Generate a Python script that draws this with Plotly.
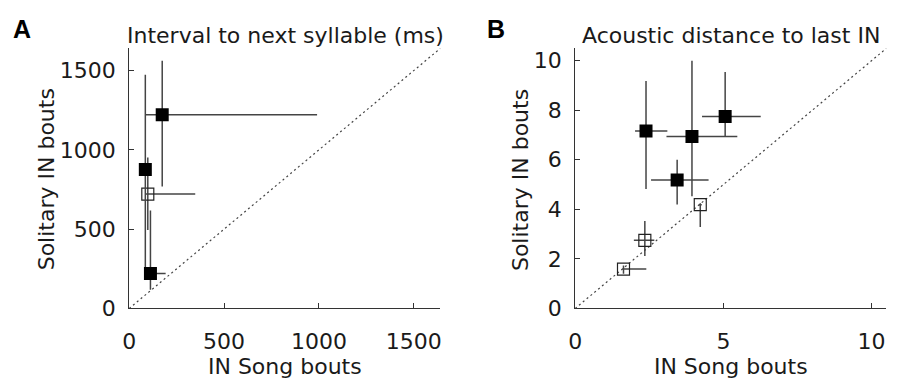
import plotly.graph_objects as go

# ---------------- data ----------------
# Panel A: Interval to next syllable (ms)
A_filled_x = [174, 85, 112]
A_filled_y = [1221, 876, 221]
A_filled_x_lo = [84, 78, 84]
A_filled_x_hi = [990, 92, 192]
A_filled_y_lo = [768, 180, 118]
A_filled_y_hi = [1561, 1473, 617]

A_open_x = [98]
A_open_y = [721]
A_open_x_lo = [85]
A_open_x_hi = [348]
A_open_y_lo = [495]
A_open_y_hi = [951]

A_range = [0, 1640]
A_ticks = [0, 500, 1000, 1500]

# Panel B: Acoustic distance to last IN
B_filled_x = [2.39, 3.94, 5.06, 3.44]
B_filled_y = [7.16, 6.94, 7.75, 5.18]
B_filled_x_lo = [2.02, 3.08, 4.28, 2.56]
B_filled_x_hi = [3.11, 5.47, 6.26, 4.50]
B_filled_y_lo = [4.82, 4.53, 6.94, 4.20]
B_filled_y_hi = [9.18, 10.0, 9.54, 6.00]

B_open_x = [4.22, 2.35, 1.63]
B_open_y = [4.19, 2.75, 1.59]
B_open_x_lo = [4.17, 1.98, 1.59]
B_open_x_hi = [4.27, 2.67, 2.40]
B_open_y_lo = [3.29, 2.12, 1.40]
B_open_y_hi = [4.25, 3.53, 1.73]

B_range = [0, 10.5]
B_xticks = [0, 5, 10]
B_yticks = [0, 2, 4, 6, 8, 10]

titles = ["Interval to next syllable (ms)", "Acoustic distance to last IN"]
panel_letters = ["A", "B"]
x_label = "IN Song bouts"
y_label = "Solitary IN bouts"

# ---------------- styling ----------------
FONT = "DejaVu Sans"
TXT = "#1a1a1a"
ERR = "#444444"
FS = 22

fig = go.Figure()


def err(v, lo, hi):
    return dict(type="data", symmetric=False,
                array=[h - c for c, h in zip(v, hi)],
                arrayminus=[c - l for c, l in zip(v, lo)],
                width=0, thickness=1.5, color=ERR)


def add_panel(xa, ya, rng, fx, fy, fxl, fxh, fyl, fyh, ox, oy, oxl, oxh, oyl, oyh):
    fig.add_trace(go.Scatter(x=rng, y=rng, mode="lines", xaxis=xa, yaxis=ya,
                             line=dict(color="#444444", width=1.2, dash="2px,3px"),
                             hoverinfo="skip", showlegend=False))
    fig.add_trace(go.Scatter(x=ox, y=oy, mode="markers", xaxis=xa, yaxis=ya,
                             error_x=err(ox, oxl, oxh), error_y=err(oy, oyl, oyh),
                             marker=dict(symbol="square-open", size=12,
                                         color="#222222", line=dict(width=1.2)),
                             showlegend=False))
    fig.add_trace(go.Scatter(x=fx, y=fy, mode="markers", xaxis=xa, yaxis=ya,
                             error_x=err(fx, fxl, fxh), error_y=err(fy, fyl, fyh),
                             marker=dict(symbol="square", size=13, color="black",
                                         line=dict(width=0)),
                             showlegend=False))


add_panel("x", "y", A_range, A_filled_x, A_filled_y, A_filled_x_lo, A_filled_x_hi,
          A_filled_y_lo, A_filled_y_hi, A_open_x, A_open_y, A_open_x_lo, A_open_x_hi,
          A_open_y_lo, A_open_y_hi)
add_panel("x2", "y2", B_range, B_filled_x, B_filled_y, B_filled_x_lo, B_filled_x_hi,
          B_filled_y_lo, B_filled_y_hi, B_open_x, B_open_y, B_open_x_lo, B_open_x_hi,
          B_open_y_lo, B_open_y_hi)

ydom = [0.1641, 0.8691]


def axis(dom, rng, ticks, title, anchor, is_x):
    d = dict(domain=dom, range=rng, tickvals=ticks, ticks="inside", ticklen=5,
             tickcolor="#333333", showline=True, linecolor="#333333", linewidth=1,
             showgrid=False, zeroline=False, anchor=anchor,
             ticklabelstandoff=13 if is_x else 8,
             tickfont=dict(family=FONT, size=FS, color=TXT))
    if is_x:
        d["title"] = dict(text=title, font=dict(family=FONT, size=FS, color=TXT),
                          standoff=4)
    return d


fig.update_layout(
    width=898, height=382,
    margin=dict(l=0, r=0, t=0, b=0),
    paper_bgcolor="white", plot_bgcolor="white",
    xaxis=axis([0.1373, 0.487], A_range, A_ticks, x_label, "y", True),
    yaxis=axis(ydom, A_range, A_ticks, y_label, "x", False),
    xaxis2=axis([0.6384, 0.9881], B_range, B_xticks, x_label, "y2", True),
    yaxis2=axis(ydom, B_range, B_yticks, y_label, "x2", False),
)

annots = []
for xc, t in zip([281, 731], titles):
    annots.append(dict(x=xc / 898, y=1 - 37 / 382, xref="paper", yref="paper",
                       text=t, showarrow=False, xanchor="center", yanchor="middle",
                       font=dict(family=FONT, size=FS, color=TXT)))
for xc in [40, 518]:
    annots.append(dict(x=xc / 898, y=1 - 186 / 382, xref="paper", yref="paper",
                       text=y_label, showarrow=False, textangle=-90,
                       xanchor="center", yanchor="middle",
                       font=dict(family=FONT, size=FS, color=TXT)))
for xl, t in zip([4, 482], panel_letters):
    annots.append(dict(x=xl / 898, y=1 - 30 / 382, xref="paper", yref="paper",
                       text="<b>" + t + "</b>", showarrow=False, xanchor="left",
                       yanchor="middle",
                       font=dict(family="Liberation Sans", size=25, color="black")))
fig.update_layout(annotations=annots)

fig.write_html("out.html")
